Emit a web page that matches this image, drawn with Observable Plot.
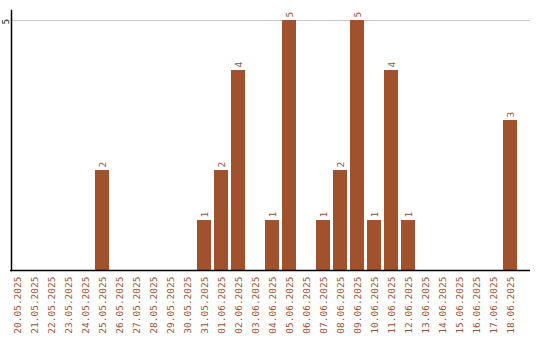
<!DOCTYPE html>
<html>
<head>
<meta charset="utf-8">
<script src="https://cdn.jsdelivr.net/npm/d3@7"></script>
<script src="https://cdn.jsdelivr.net/npm/@observablehq/plot@0.6"></script>
<style>
  html, body { margin: 0; padding: 0; background: #fff; }
</style>
</head>
<body>
<div id="chart"></div>
<script>
const dates = [
  "20.05.2025","21.05.2025","22.05.2025","23.05.2025","24.05.2025","25.05.2025",
  "26.05.2025","27.05.2025","28.05.2025","29.05.2025","30.05.2025","31.05.2025",
  "01.06.2025","02.06.2025","03.06.2025","04.06.2025","05.06.2025","06.06.2025",
  "07.06.2025","08.06.2025","09.06.2025","10.06.2025","11.06.2025","12.06.2025",
  "13.06.2025","14.06.2025","15.06.2025","16.06.2025","17.06.2025","18.06.2025"
];
const counts = [
  0,0,0,0,0,2,
  0,0,0,0,0,1,
  2,4,0,1,5,0,
  1,2,5,1,4,1,
  0,0,0,0,0,3
];
const yTicks = [5];

const data = dates.map((d, i) => ({date: d, value: counts[i]}));
const nonZero = data.filter(d => d.value > 0);
const color = "#a0522d";
const font = "'DejaVu Sans Mono', monospace";

const chart = Plot.plot({
  width: 540,
  height: 340,
  marginLeft: 10,
  marginRight: 10,
  marginTop: 10,
  marginBottom: 70,
  style: {fontFamily: font, fontSize: "9.5px", background: "#fff"},
  x: {domain: dates, paddingInner: 0.18, paddingOuter: 0.384, align: 0, label: null},
  y: {domain: [0, 5.2], label: null, axis: null},
  marks: [
    Plot.ruleY(yTicks, {stroke: "#c8c8c8", strokeWidth: 1}),
    Plot.barY(nonZero, {x: "date", y: "value", fill: color}),
    Plot.text(nonZero, {x: "date", y: "value", text: d => String(d.value), rotate: -90, textAnchor: "start", dy: -3, fill: color, fontSize: 9.5}),
    Plot.text(yTicks, {y: d => d, text: d => String(d), frameAnchor: "left", dx: -5, dy: 4, rotate: -90, fill: "#222", fontSize: 9.5}),
    Plot.axisX({tickSize: 0, tickRotate: -90, tickPadding: 6, fill: color, fontSize: 9.5, label: null}),
    Plot.ruleY([0], {stroke: "#000", strokeWidth: 1.5}),
    Plot.frame({anchor: "left", stroke: "#000", strokeWidth: 1.5, dx: 1})
  ]
});
document.getElementById("chart").appendChild(chart);
</script>
</body>
</html>
